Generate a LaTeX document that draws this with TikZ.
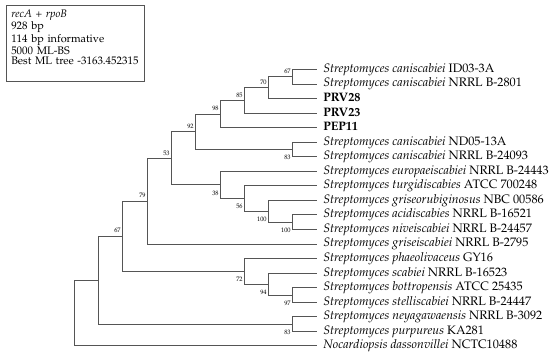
\documentclass[tikz,border=0pt]{standalone}
\usepackage[T1]{fontenc}
\usepackage{mathpazo}
\definecolor{branch}{HTML}{555555}
\tikzset{
  edge/.style={draw=branch, line width=0.75pt},
  leaf/.style={anchor=west, inner xsep=4.5pt, inner ysep=0pt, text height=6.3pt, text depth=2pt, font=\fontsize{9.2}{10}\selectfont},
  bsup/.style={anchor=south east, inner sep=0pt, xshift=-0.8pt, yshift=2.2pt, font=\fontsize{4.8}{5}\selectfont},
  bsdn/.style={anchor=north east, inner sep=0pt, xshift=-0.8pt, yshift=-4.2pt, font=\fontsize{4.8}{5}\selectfont},
}
\newcommand{\sm}[1]{\textit{Streptomyces #1}}
\begin{document}
\begin{tikzpicture}[x=0.75pt, y=-0.75pt]
\useasboundingbox (0,0) rectangle (550,356);
% info box
\node[draw=branch, line width=0.7pt, anchor=north west, align=left, text width=96pt, inner xsep=3.6pt, inner ysep=3.5pt, font=\fontsize{8.2}{7.8}\selectfont] (info) at (6,5)
  {\textit{recA} + \textit{rpoB}\\928 bp\\114 bp informative\\5000 ML-BS\\Best ML tree -3163.452315\\[1.5pt]\mbox{}};
% leaves
\node[leaf] (cID03)   at (317,69.5)   {\sm{caniscabiei} ID03-3A};
\node[leaf] (cB2801)  at (317,84.05)  {\sm{caniscabiei} NRRL B-2801};
\node[leaf] (prv28)   at (317,98.6)   {\textbf{PRV28}};
\node[leaf] (prv23)   at (317,113.15) {\textbf{PRV23}};
\node[leaf] (pep11)   at (317,127.7)  {\textbf{PEP11}};
\node[leaf] (cND05)   at (317,142.25) {\sm{caniscabiei} ND05-13A};
\node[leaf] (cB24093) at (317,156.8)  {\sm{caniscabiei} NRRL B-24093};
\node[leaf] (europ)   at (317,171.35) {\sm{europaeiscabiei} NRRL B-24443};
\node[leaf] (turgi)   at (317,185.9)  {\sm{turgidiscabies} ATCC 700248};
\node[leaf] (griseor) at (317,200.45) {\sm{griseorubiginosus} NBC 00586};
\node[leaf] (acidi)   at (317,215.0)  {\sm{acidiscabies} NRRL B-16521};
\node[leaf] (nivei)   at (317,229.55) {\sm{niveiscabiei} NRRL B-24457};
\node[leaf] (griseis) at (317,244.1)  {\sm{griseiscabiei} NRRL B-2795};
\node[leaf] (phaeo)   at (317,258.65) {\sm{phaeolivaceus} GY16};
\node[leaf] (scab)    at (317,273.2)  {\sm{scabiei} NRRL B-16523};
\node[leaf] (bottro)  at (317,287.75) {\sm{bottropensis} ATCC 25435};
\node[leaf] (stelli)  at (317,302.3)  {\sm{stelliscabiei} NRRL B-24447};
\node[leaf] (neyaga)  at (317,316.85) {\sm{neyagawaensis} NRRL B-3092};
\node[leaf] (purpu)   at (317,331.4)  {\sm{purpureus} KA281};
\node[leaf] (nocard)  at (317,345.95) {\textit{Nocardiopsis dassonvillei} NCTC10488};
% internal nodes
\coordinate (n67a)  at (292,76.78);
\coordinate (n70)   at (268,87.69);
\coordinate (n85)   at (244,100.42);
\coordinate (n98)   at (220,114.06);
\coordinate (n83a)  at (292,149.53);
\coordinate (n92)   at (195,131.79);
\coordinate (n100b) at (292,222.28);
\coordinate (n100a) at (268,211.36);
\coordinate (n56)   at (244,198.63);
\coordinate (n38)   at (220,184.99);
\coordinate (n53)   at (171,158.39);
\coordinate (n79)   at (147,201.25);
\coordinate (n97)   at (292,295.03);
\coordinate (n94)   at (268,284.11);
\coordinate (n72)   at (244,271.38);
\coordinate (n67b)  at (122,236.31);
\coordinate (n83b)  at (292,324.13);
\coordinate (nA)    at (98,280.22);
\coordinate (nroot) at (74,313.08);
% branches
\draw[edge] (n67a) |- (cID03.west);  \draw[edge] (n67a) |- (cB2801.west);
\draw[edge] (n70) |- (n67a);         \draw[edge] (n70) |- (prv28.west);
\draw[edge] (n85) |- (n70);          \draw[edge] (n85) |- (prv23.west);
\draw[edge] (n98) |- (n85);          \draw[edge] (n98) |- (pep11.west);
\draw[edge] (n83a) |- (cND05.west);  \draw[edge] (n83a) |- (cB24093.west);
\draw[edge] (n92) |- (n98);          \draw[edge] (n92) |- (n83a);
\draw[edge] (n100b) |- (acidi.west); \draw[edge] (n100b) |- (nivei.west);
\draw[edge] (n100a) |- (griseor.west); \draw[edge] (n100a) |- (n100b);
\draw[edge] (n56) |- (turgi.west);   \draw[edge] (n56) |- (n100a);
\draw[edge] (n38) |- (europ.west);   \draw[edge] (n38) |- (n56);
\draw[edge] (n53) |- (n92);          \draw[edge] (n53) |- (n38);
\draw[edge] (n79) |- (n53);          \draw[edge] (n79) |- (griseis.west);
\draw[edge] (n97) |- (bottro.west);  \draw[edge] (n97) |- (stelli.west);
\draw[edge] (n94) |- (scab.west);    \draw[edge] (n94) |- (n97);
\draw[edge] (n72) |- (phaeo.west);   \draw[edge] (n72) |- (n94);
\draw[edge] (n67b) |- (n79);         \draw[edge] (n67b) |- (n72);
\draw[edge] (n83b) |- (neyaga.west); \draw[edge] (n83b) |- (purpu.west);
\draw[edge] (nA) |- (n67b);          \draw[edge] (nA) |- (n83b);
\draw[edge] (nroot) |- (nA);         \draw[edge] (nroot) |- (nocard.west);
% bootstrap values
\node[bsup] (b67a)  at (n67a)  {67};
\node[bsup] (b70)   at (n70)   {70};
\node[bsup] (b85)   at (n85)   {85};
\node[bsup] (b98)   at (n98)   {98};
\node[bsup] (b92)   at (n92)   {92};
\node[bsup] (b53)   at (n53)   {53};
\node[bsup] (b79)   at (n79)   {79};
\node[bsup] (b67b)  at (n67b)  {67};
\node[bsdn] (b83a)  at (n83a)  {83};
\node[bsdn] (b38)   at (n38)   {38};
\node[bsdn] (b56)   at (n56)   {56};
\node[bsdn] (b100a) at (n100a) {100};
\node[bsdn] (b100b) at (n100b) {100};
\node[bsdn] (b72)   at (n72)   {72};
\node[bsdn] (b94)   at (n94)   {94};
\node[bsdn] (b97)   at (n97)   {97};
\node[bsdn] (b83b)  at (n83b)  {83};
\end{tikzpicture}
\end{document}
